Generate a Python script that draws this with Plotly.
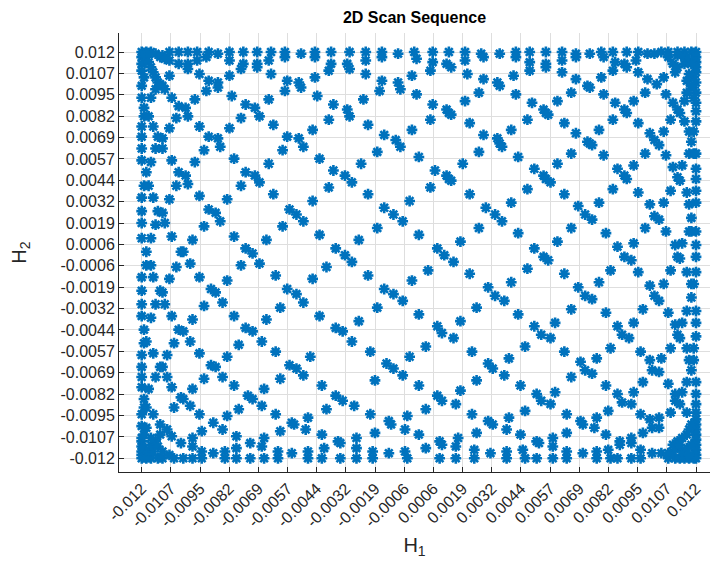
import plotly.graph_objects as go

# Tick labels as printed on both axes (ticks are evenly spaced from -0.012 to 0.012)
tick_labels = ["-0.012", "-0.0107", "-0.0095", "-0.0082", "-0.0069", "-0.0057",
               "-0.0044", "-0.0032", "-0.0019", "-0.0006", "0.0006", "0.0019",
               "0.0032", "0.0044", "0.0057", "0.0069", "0.0082", "0.0095",
               "0.0107", "0.012"]

# Scan points (H1, H2), in units of 1e-4
scan_top_left_e4 = [
    (-120, 120), (-118, 120), (-116, 120), (-114, 119), (-111, 118), (-108, 120), (-104, 120),
    (-100, 120), (-96, 120), (-91, 120), (-92, 117), (-87, 119), (-82, 120), (-76, 120),
    (-70, 120), (-64, 120), (-58, 120), (-58, 117), (-51, 119), (-45, 120), (-45, 117),
    (-38, 120), (-30, 120), (-23, 120), (-16, 120), (-16, 117), (-9, 119), (-2, 120), (-1, 116),
    (-108, 115), (-104, 113), (-100, 113), (-100, 110), (-96, 115), (-82, 115), (-76, 113),
    (-77, 110), (-70, 113), (-70, 111), (-65, 115), (-38, 113), (-39, 109), (-31, 113),
    (-30, 110), (-23, 115), (-108, 106), (-95, 107), (-82, 106), (-64, 107), (-57, 103),
    (-58, 97), (-52, 102), (-51, 99), (-45, 105), (-23, 107), (-16, 103), (-17, 97), (-9, 102),
    (-8, 98), (-3, 106), (-91, 103), (-92, 97), (-87, 102), (-87, 99),
    (-120, 117), (-120, 113), (-120, 109), (-119, 105), (-120, 100), (-118, 117), (-117, 114),
    (-116, 111), (-115, 108), (-114, 105), (-113, 102), (-111, 100), (-110, 98), (-114, 98),
    (-112, 101), (-119, 119), (-117, 119), (-112, 117), (-110, 116),
    (-120, 93), (-116, 93), (-107, 93), (-97, 92), (-81, 94), (-65, 92), (-44, 94), (-24, 92),
    (-1, 95), (-104, 88), (-101, 87), (-100, 82), (-105, 81), (-75, 89), (-71, 87), (-69, 82),
    (-77, 81), (-37, 89), (-31, 86), (-30, 82), (-39, 80), (-119, 87), (-119, 82), (-117, 82),
    (-120, 76), (-115, 76), (-108, 75), (-95, 76), (-82, 75), (-63, 77), (-46, 74), (-22, 77),
    (-3, 74), (-120, 70), (-120, 63), (-113, 70), (-111, 69), (-111, 63), (-114, 63),
    (-91, 70), (-87, 69), (-86, 64), (-93, 62), (-57, 70), (-52, 69), (-50, 64), (-59, 62),
    (-15, 71), (-10, 68), (-8, 64), (-18, 61),
    (-120, 56), (-116, 55), (-107, 56), (-97, 55), (-80, 57), (-65, 54), (-43, 57), (-25, 54),
    (0, 58), (-118, 49), (-104, 49), (-101, 47), (-75, 49), (-71, 47), (-69, 43), (-77, 41),
    (-37, 50), (-32, 47), (-29, 43), (-39, 40), (-105, 41), (-100, 42), (-119, 41), (-117, 41),
    (-120, 34), (-115, 34), (-108, 33), (-95, 35), (-83, 33), (-63, 36), (-46, 32), (-22, 36),
    (-4, 32), (-120, 26), (-113, 26), (-111, 25), (-91, 27), (-88, 25), (-86, 20), (-93, 17),
    (-56, 27), (-53, 24), (-50, 20), (-59, 17), (-15, 28), (-11, 24), (-7, 20), (-18, 16),
    (-120, 19), (-114, 18), (-110, 19),
    (-120, 10), (-116, 10), (-107, 11), (-98, 9), (-80, 11), (-66, 9), (-43, 12), (-26, 9), (0, 12),
]

scan_top_right_e4 = [
    (6, 120), (13, 120), (20, 120), (27, 119), (28, 117), (35, 119), (42, 120), (42, 117),
    (48, 120), (55, 120), (62, 120), (68, 119), (68, 117), (74, 119), (79, 120), (80, 117),
    (84, 120), (90, 120), (95, 120), (99, 119), (102, 119), (105, 120), (108, 120), (112, 120),
    (115, 120), (118, 120), (120, 120),
    (6, 114), (5, 109), (12, 113), (14, 111), (20, 115), (21, 107), (48, 114), (48, 109),
    (55, 113), (55, 111), (62, 115), (62, 108), (85, 114), (84, 109), (89, 113), (90, 111),
    (94, 115), (95, 108),
    (120, 117), (120, 114), (120, 111), (120, 108), (119, 105), (120, 102), (119, 99), (120, 96),
    (119, 93), (108, 117), (110, 113), (112, 111), (115, 113), (111, 108), (117, 107), (116, 103),
    (118, 100), (116, 96), (112, 118), (115, 117), (117, 115), (118, 113),
    (28, 104), (34, 102), (35, 100), (26, 96), (41, 106), (42, 95), (68, 104), (73, 100),
    (74, 99), (66, 96), (79, 105), (80, 95), (99, 104), (103, 101), (98, 96), (106, 105), (107, 95),
    (6, 89), (12, 86), (13, 84), (14, 83), (5, 80), (20, 91), (22, 78), (49, 90), (54, 86),
    (55, 84), (56, 83), (47, 80), (60, 91), (63, 78), (85, 90), (89, 86), (90, 84), (84, 80),
    (93, 91), (95, 78), (110, 90), (112, 86), (113, 84), (115, 91), (120, 90), (120, 85),
    (120, 79), (109, 80), (115, 79),
    (28, 71), (34, 69), (35, 66), (36, 64), (26, 61), (40, 74), (43, 58), (68, 72), (73, 67),
    (74, 66), (75, 65), (66, 60), (78, 74), (80, 59), (100, 72), (102, 68), (104, 65), (98, 60),
    (106, 73), (107, 59), (117, 73), (119, 73), (118, 67), (117, 60), (119, 60), (120, 60),
    (7, 50), (12, 47), (13, 45), (14, 44), (5, 40), (19, 54), (22, 36), (50, 51), (54, 47),
    (55, 45), (57, 43), (47, 39), (60, 54), (63, 36), (86, 51), (89, 47), (90, 45), (84, 39),
    (93, 53), (95, 37), (110, 52), (114, 53), (112, 46), (113, 44), (120, 51), (120, 45),
    (109, 38), (116, 37), (120, 38),
    (29, 28), (33, 24), (36, 20), (26, 16), (40, 31), (43, 13), (69, 29), (72, 24), (75, 21),
    (66, 16), (78, 31), (81, 13), (100, 30), (102, 23), (104, 21), (98, 16), (106, 31), (107, 14),
    (117, 30), (120, 31), (118, 22), (117, 14), (118, 14), (120, 14),
    (18, 8), (60, 8), (93, 7),
]

scan_bottom_left_e4 = [
    (-120, -13), (-120, -21), (-120, -29), (-120, -36), (-119, -44), (-119, -52), (-120, -59),
    (-120, -66), (-120, -72), (-120, -78), (-119, -85), (-119, -90), (-120, -94), (-120, -101),
    (-120, -108), (-120, -116),
    (-118, 2), (-118, -6), (-116, -6), (-115, -13), (-116, -37), (-118, -51), (-115, -58),
    (-114, -72), (-117, -79), (-118, -90),
    (-112, -21), (-111, -22), (-114, -29), (-110, -29), (-112, -66), (-111, -66), (-109, -59),
    (-109, -72), (-115, -94), (-112, -100), (-109, -103), (-107, -36), (-108, -14), (-105, -7),
    (-99, -5), (-103, 2), (-102, 2), (-104, -44), (-102, -45), (-106, -52), (-99, -51),
    (-95, -13), (-95, -58), (-98, -38), (-93, -30), (-90, -20), (-88, -22), (-85, -28),
    (-83, -15), (-80, -36), (-75, -43), (-72, -45), (-68, -51), (-78, -53), (-66, -38),
    (-62, -12), (-60, -31), (-57, -20), (-53, -23), (-50, -28), (-46, -14), (-43, -36),
    (-40, -7), (-36, -43), (-33, -45), (-29, -51), (-26, -39), (-22, -12), (-18, -31),
    (-15, -20), (-11, -23), (-7, -27), (-3, -15), (0, -35), (-75, 4), (-72, 1), (-69, -5),
    (-77, -6), (-36, 4), (-32, 0), (-29, -4), (-83, -60), (-90, -65), (-88, -66), (-85, -72),
    (-93, -73), (-98, -79), (-107, -78), (-103, -84), (-102, -85), (-99, -89), (-106, -90),
    (-95, -94), (-83, -95), (-80, -77), (-74, -83), (-72, -85), (-68, -89), (-78, -91),
    (-67, -79), (-62, -57), (-60, -73), (-56, -65), (-53, -67), (-50, -71), (-47, -60),
    (-42, -77), (-36, -83), (-33, -86), (-28, -89), (-40, -91), (-21, -57), (-19, -74),
    (-14, -64), (-11, -67), (-7, -71), (-4, -60), (0, -77), (-62, -94), (-55, -99), (-54, -100),
    (-60, -104), (-49, -103), (-48, -96), (-42, -106), (-41, -114), (-35, -110), (-34, -111),
    (-27, -108), (-27, -114), (-21, -94), (-19, -105), (-13, -98), (-12, -100), (-6, -103),
    (-5, -95), (0, -106),
    (-120, -110), (-120, -113), (-120, -118), (-120, -120), (-118, -120), (-116, -120),
    (-113, -120), (-111, -120), (-119, -114), (-117, -116), (-115, -116), (-116, -112),
    (-114, -110), (-112, -106), (-119, -106), (-118, -102), (-116, -108), (-113, -113),
    (-111, -116), (-108, -118),
    (-107, -107), (-103, -111), (-98, -108), (-98, -113), (-106, -120), (-102, -120), (-98, -120),
    (-94, -116), (-94, -120), (-89, -117), (-84, -116), (-84, -120), (-79, -107), (-79, -114),
    (-79, -120), (-73, -111), (-73, -120), (-67, -108), (-68, -113), (-67, -120), (-61, -116),
    (-61, -120), (-55, -117), (-48, -116), (-48, -120), (-42, -120), (-34, -120), (-27, -120),
    (-20, -116), (-20, -120), (-13, -117), (-6, -116), (-5, -120), (-89, -99), (-85, -103),
    (-94, -104),
]

scan_bottom_right_e4 = [
    (8, 4), (11, 0), (15, -4), (4, -9), (22, -11), (30, -19), (33, -24), (37, -27), (25, -31),
    (40, -16), (50, 4), (54, -1), (56, -3), (47, -8), (63, -11), (69, -19), (72, -24), (75, -26),
    (66, -32), (78, -16), (81, -34), (86, 5), (89, -1), (92, -3), (83, -9), (95, -10), (100, -18),
    (102, -24), (104, -27), (97, -32), (106, -17), (108, -34),
    (111, 6), (114, 7), (112, -1), (113, -2), (120, 6), (120, -1), (109, -9), (116, -10),
    (120, -10), (118, -17), (119, -17), (118, -25), (116, -33), (120, -33),
    (111, -41), (114, -40), (120, -40), (112, -47), (113, -49), (120, -48), (109, -55),
    (116, -55), (119, -55), (117, -62), (119, -62), (118, -68), (116, -75), (120, -75),
    (100, -62), (101, -68), (104, -69), (105, -61), (97, -75), (108, -76),
    (111, -82), (114, -81), (120, -82), (111, -86), (113, -88), (120, -88), (109, -93),
    (116, -93), (120, -93),
    (8, -42), (10, -46), (15, -49), (3, -54), (18, -39), (23, -57),
    (43, -35), (50, -42), (53, -47), (57, -49), (46, -54), (59, -40), (63, -57),
    (86, -42), (88, -47), (91, -49), (83, -55), (93, -40), (96, -57),
    (8, -83), (10, -86), (16, -88), (3, -91), (18, -80), (25, -74), (30, -64), (32, -67),
    (37, -71), (39, -61), (44, -77), (46, -92), (51, -82), (53, -86), (57, -88), (59, -81),
    (64, -94), (66, -72), (70, -63), (72, -68), (75, -70), (77, -61), (81, -77), (82, -92),
    (86, -82), (88, -87), (92, -88), (93, -81), (96, -94),
    (23, -94), (25, -105), (30, -98), (32, -100), (38, -103), (39, -96), (44, -106), (45, -115),
    (46, -120), (51, -110), (52, -111), (58, -108), (58, -113), (64, -105), (70, -98),
    (71, -100), (76, -102), (77, -96), (81, -106), (82, -115), (83, -120),
    (87, -110), (87, -112), (92, -111), (92, -108), (86, -120), (92, -120), (97, -105),
    (100, -97), (101, -102), (104, -96), (104, -102), (96, -115), (96, -120), (101, -117),
    (105, -117),
    (3, -114), (9, -110), (10, -112), (16, -113), (17, -108), (9, -120), (16, -120), (24, -115),
    (24, -120), (31, -117), (38, -116), (38, -120), (51, -120), (58, -120), (64, -116),
    (64, -120), (71, -117), (77, -116), (77, -120),
    (120, -97), (120, -100), (120, -103), (120, -106), (120, -109), (120, -112), (120, -115),
    (120, -118), (120, -120), (108, -120), (111, -120), (113, -120), (115, -120), (117, -120),
    (119, -120), (110, -112), (112, -110), (114, -108), (116, -106), (117, -103), (118, -100),
    (112, -114), (110, -116), (114, -116), (116, -114), (118, -112), (113, -112), (108, -117),
    (117, -118),
]

groups = [scan_top_left_e4, scan_top_right_e4, scan_bottom_left_e4, scan_bottom_right_e4]
h1 = [p[0] * 1e-4 for g in groups for p in g]
h2 = [p[1] * 1e-4 for g in groups for p in g]

tick_vals = [-0.012 + i * 0.024 / 19 for i in range(len(tick_labels))]

FONT = "Liberation Sans, Arial, Helvetica, sans-serif"
AX = "#262626"

fig = go.Figure()
fig.add_trace(go.Scatter(
    x=h1, y=h2, mode="markers",
    marker=dict(symbol="asterisk-open", size=9, color="#0072BD",
                line=dict(color="#0072BD", width=2.6)),
    showlegend=False, hoverinfo="skip",
))

axis_common = dict(
    tickmode="array", tickvals=tick_vals, ticktext=tick_labels,
    showgrid=True, gridcolor="#dedede", gridwidth=1,
    zeroline=False, showline=True, linecolor=AX, linewidth=1,
    ticks="inside", ticklen=5, tickcolor=AX, tickwidth=1,
    tickfont=dict(family=FONT, size=16, color=AX),
    mirror=False,
)

fig.update_layout(
    width=710, height=579,
    margin=dict(l=119, r=0, t=33, b=107, pad=0),
    paper_bgcolor="white", plot_bgcolor="white",
    title=dict(text="<b>2D Scan Sequence</b>", x=0.5, xref="paper",
               y=1 - 17 / 579, yref="container", yanchor="middle", xanchor="center",
               font=dict(family=FONT, size=16, color="black")),
    xaxis=dict(axis_common, range=[-0.012983, 0.012606], tickangle=-45,
               title=dict(text="H<sub>1</sub>", font=dict(family=FONT, size=20, color=AX),
                          standoff=8)),
    yaxis=dict(axis_common, range=[-0.01281, 0.013123],
               title=dict(text="H<sub>2</sub>", font=dict(family=FONT, size=20, color=AX),
                          standoff=28)),
)

fig.write_html("out.html", config={"displayModeBar": False},
               post_script="document.body.style.margin='0px';document.body.style.overflow='hidden';")
